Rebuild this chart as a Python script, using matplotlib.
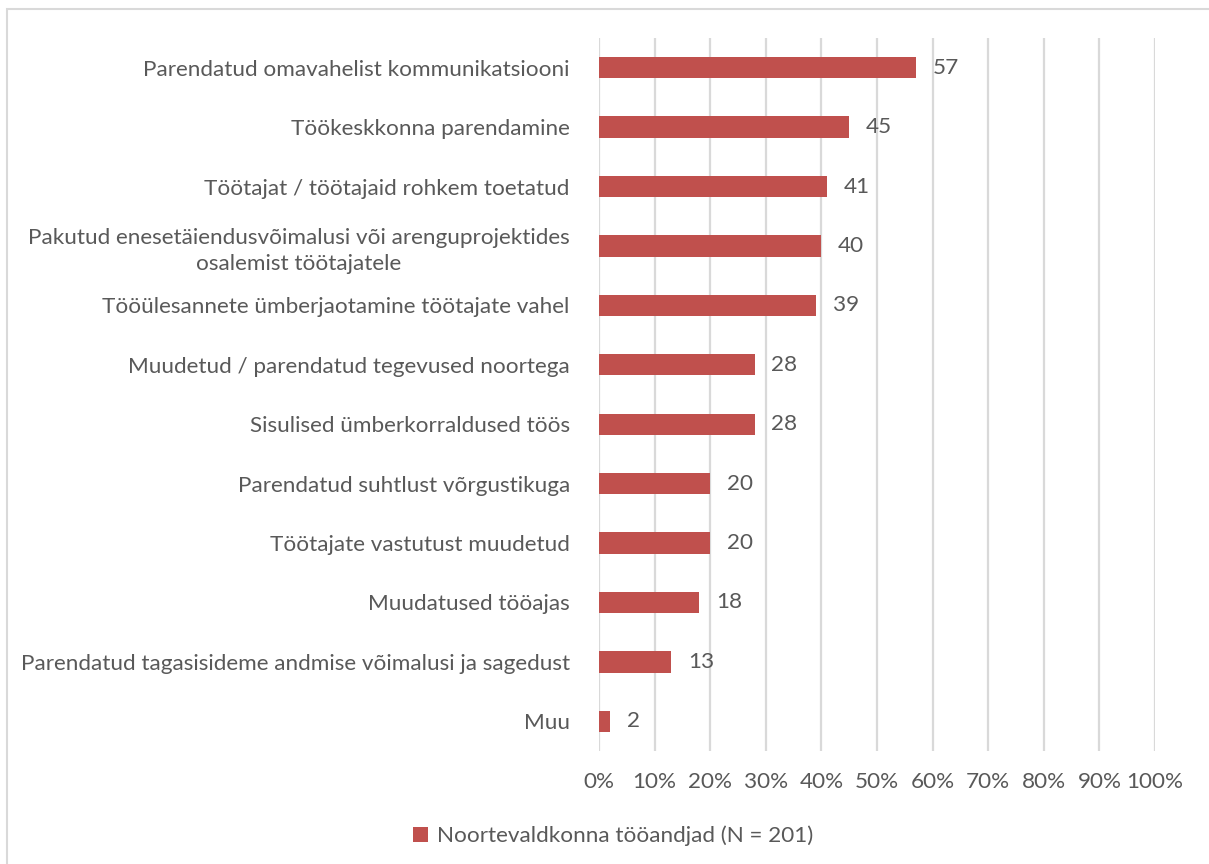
import matplotlib
matplotlib.use("Agg")
import matplotlib.pyplot as plt
from matplotlib.patches import Rectangle
from matplotlib.ticker import PercentFormatter

categories = [
    "Parendatud omavahelist kommunikatsiooni",
    "Töökeskkonna parendamine",
    "Töötajat / töötajaid rohkem toetatud",
    "Pakutud enesetäiendusvõimalusi või arenguprojektides\nosalemist töötajatele",
    "Tööülesannete ümberjaotamine töötajate vahel",
    "Muudetud / parendatud tegevused noortega",
    "Sisulised ümberkorraldused töös",
    "Parendatud suhtlust võrgustikuga",
    "Töötajate vastutust muudetud",
    "Muudatused tööajas",
    "Parendatud tagasisideme andmise võimalusi ja sagedust",
    "Muu",
]
values = [57, 45, 41, 40, 39, 28, 28, 20, 20, 18, 13, 2]
series_name = "Noortevaldkonna tööandjad (N = 201)"

bar_color = "#C0504D"
text_color = "#595959"
grid_color = "#D9D9D9"
fs = 16.2

plt.rcParams["font.family"] = ["Lato", "DejaVu Sans"]

W, H = 1209, 864
fig = plt.figure(figsize=(W / 100, H / 100), dpi=100)
ax = fig.add_axes([599 / W, 1 - 751 / H, 556 / W, 713 / H])

y = list(range(len(categories)))
ax.barh(y, values, height=0.36, color=bar_color, zorder=3, label=series_name)
for yi, v in zip(y, values):
    ax.text(v + 3.0, yi, f"{v}", va="center", ha="left", fontsize=fs,
            color=text_color)

ax.set_xlim(0, 100)
ax.set_ylim(len(categories) - 0.5, -0.5)
ax.set_xticks(range(0, 101, 10))
ax.xaxis.set_major_formatter(PercentFormatter(decimals=0))
ax.set_yticks(y)
ax.set_yticklabels(categories, multialignment="center", linespacing=1.4)
ax.tick_params(axis="y", length=0, pad=21, labelsize=fs, labelcolor=text_color)
ax.tick_params(axis="x", length=0, pad=15, labelsize=fs, labelcolor=text_color)
ax.grid(axis="x", color=grid_color, linewidth=1.6, zorder=0)
for s in ax.spines.values():
    s.set_visible(False)

leg = fig.legend(loc="center", bbox_to_anchor=(613 / W, 1 - 836 / H), frameon=False,
                 fontsize=fs, labelcolor=text_color, handlelength=0.7,
                 handleheight=0.7, handletextpad=0.4)

# outer chart frame (top and left edges visible)
fig.patches.append(Rectangle((7 / W, -0.01), 1.02, 1 - 9 / H + 0.01,
                             transform=fig.transFigure, fill=False,
                             edgecolor=grid_color, linewidth=1.5))

fig.savefig("out.png", dpi=100)
